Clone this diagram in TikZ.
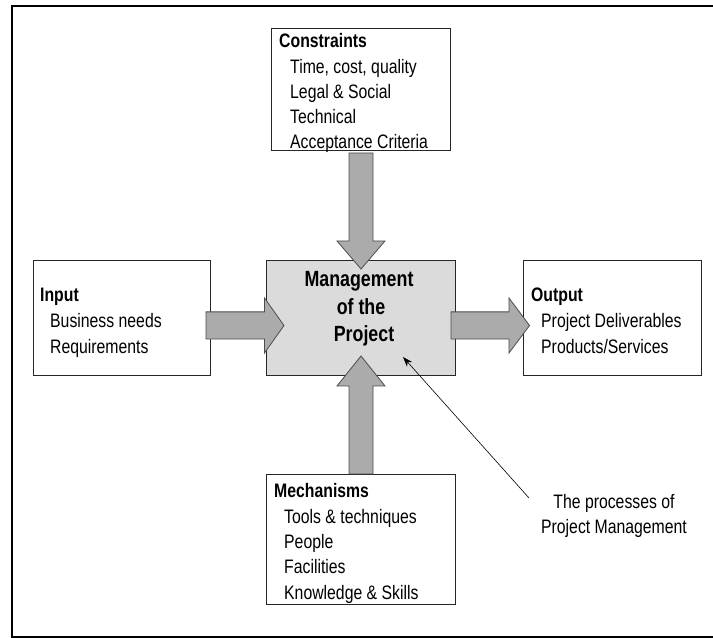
\documentclass[tikz,border=0pt]{standalone}
\usepackage{fontspec}
% Arial-like sans, slightly condensed
\newfontfamily\narrowsans[FakeStretch=0.81]{Liberation Sans}
\usetikzlibrary{arrows.meta}

% Block arrow: start coordinate, rotation, total length, head length, shaft half-width, head half-width
\newcommand\blockarr[6]{%
  \draw[blockarrow, shift={(#1)}, rotate=#2]
    (0,-#5) -- ({#3-#4},-#5) -- ({#3-#4},-#6) -- (#3,0)
    -- ({#3-#4},#6) -- ({#3-#4},#5) -- (0,#5) -- cycle;}

\begin{document}
\begin{tikzpicture}[x=1bp,y=1bp,
  box/.style={draw=black!85, line width=0.9bp, rectangle, inner sep=0pt},
  corebox/.style={box, fill=black!14},
  blockarrow/.style={fill=black!33, draw=black!70, line width=0.8bp, line join=miter},
  heading/.style={font=\narrowsans\bfseries\fontsize{19.5bp}{25.3bp}\selectfont, anchor=base west, inner sep=0pt},
  item/.style={font=\narrowsans\fontsize{19.5bp}{25.3bp}\selectfont, anchor=base west, inner sep=0pt},
  coretext/.style={font=\narrowsans\bfseries\fontsize{22bp}{27.3bp}\selectfont, anchor=base, inner sep=0pt},
  note/.style={font=\narrowsans\fontsize{19.5bp}{25bp}\selectfont, anchor=base, inner sep=0pt},
  pointer/.style={draw=black, line width=0.6bp, -{Stealth[length=10bp,width=7bp]}}
]
\useasboundingbox (0,0) rectangle (713,638);

% outer frame (open on the right)
\draw[line width=2.4bp] (720,632) -- (12,632) -- (12,1.2) -- (720,1.2);

% boxes
\node[box, minimum width=179bp, minimum height=122bp] (consBox) at (360.5,549) {};
\node[corebox, minimum width=189bp, minimum height=115bp] (coreBox) at (360.5,320.5) {};
\node[box, minimum width=177bp, minimum height=115bp] (inBox) at (121.5,320.5) {};
\node[box, minimum width=178bp, minimum height=115bp] (outBox) at (612,320.5) {};
\node[box, minimum width=189bp, minimum height=130bp] (mechBox) at (360.5,99) {};

% block arrows into and out of the core box
\coordinate (inStart)  at (206,312.5);
\coordinate (outStart) at (451,312.5);
\coordinate (topStart) at (361,485);
\coordinate (botStart) at (361,164);
\blockarr{inStart}{0}{78}{19.5}{13.6}{27.5}
\blockarr{outStart}{0}{78.5}{20.5}{13.6}{27.5}
\blockarr{topStart}{-90}{116}{28}{12}{24}
\blockarr{botStart}{90}{118}{30}{12}{24}

% constraints
\node[heading] (consH) at (279,590.2) {Constraints};
\foreach \t [count=\i] in {{Time, cost, quality},{Legal \& Social},{Technical},{Acceptance Criteria}}
  \node[item] (cons\i) at (290,{590.2-25.3*\i}) {\t};

% input
\node[heading] (inH) at (40,336) {Input};
\foreach \t [count=\i] in {{Business needs},{Requirements}}
  \node[item] (in\i) at (50,{336-25.7*\i}) {\t};

% output
\node[heading] (outH) at (531,336) {Output};
\foreach \t [count=\i] in {{Project Deliverables},{Products/Services}}
  \node[item] (out\i) at (541,{336-25.7*\i}) {\t};

% mechanisms
\node[heading] (mechH) at (274,140) {Mechanisms};
\foreach \t [count=\i] in {{Tools \& techniques},{People},{Facilities},{Knowledge \& Skills}}
  \node[item] (mech\i) at (284,{140-25.3*\i}) {\t};

% core label
\node[coretext] (core1) at (359,351) {Management};
\node[coretext] (core2) at (361,323.7) {of the};
\node[coretext] (core3) at (364,296.4) {Project};

% note with pointer into the core box
\node[note] (note1) at (614,129) {The processes of};
\node[note] (note2) at (614,104) {Project Management};
\coordinate (ptrStart) at (529,140);
\coordinate (ptrEnd) at (403,281);
\draw[pointer] (ptrStart) -- (ptrEnd);
\end{tikzpicture}
\end{document}
